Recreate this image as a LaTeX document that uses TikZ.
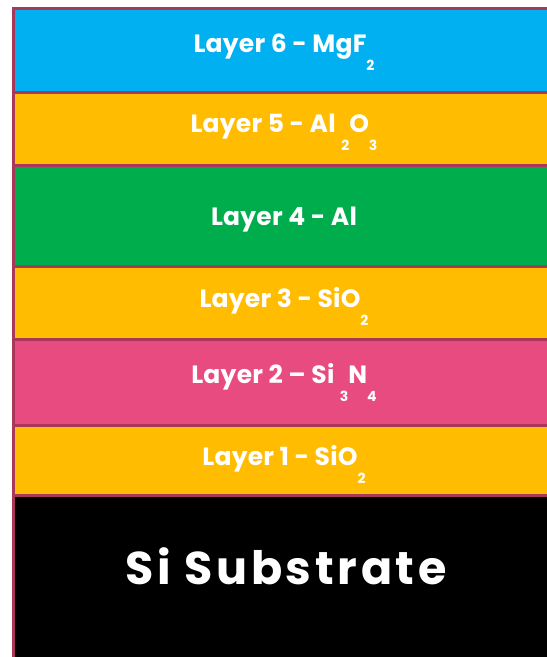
\documentclass[tikz,border=0pt]{standalone}
\usepackage{fontspec}
\setmainfont{Poppins}
\usetikzlibrary{positioning}

\definecolor{edge}{RGB}{168,56,90}
\definecolor{mgf}{RGB}{0,176,240}
\definecolor{oxide}{RGB}{255,188,0}
\definecolor{metal}{RGB}{0,173,76}
\definecolor{nitride}{RGB}{232,75,128}

\newcommand{\lsub}[1]{\raisebox{-18pt}{\fontsize{14}{14}\selectfont #1}}

\begin{document}
\begin{tikzpicture}[
    x=1pt, y=-1pt,
    layer/.style={draw=edge, line width=3pt, minimum width=551.5pt,
                  inner sep=0pt, outer sep=0pt},
    lbl/.style={anchor=base, inner sep=0pt, text=white,
                font=\fontsize{25}{30}\selectfont\bfseries\addfontfeatures{LetterSpace=1}},
    big/.style={lbl, font=\fontsize{46}{52}\selectfont\bfseries\addfontfeatures{LetterSpace=8}}
]
\useasboundingbox (0,0) rectangle (547,657);

\def\xm{289.25}
\def\xc{284}

% the stack, top to bottom
\node[layer, fill=mgf, minimum height=84.5pt] (L6) at (\xm, 50.25) {};
\node[layer, fill=oxide, minimum height=72.5pt, below=0pt of L6] (L5) {};
\node[layer, fill=metal, minimum height=101pt, below=0pt of L5] (L4) {};
\node[layer, fill=oxide, minimum height=73pt, below=0pt of L4] (L3) {};
\node[layer, fill=nitride, minimum height=86pt, below=0pt of L3] (L2) {};
\node[layer, fill=oxide, minimum height=70.5pt, below=0pt of L2] (L1) {};
\node[layer, fill=black, minimum height=180pt, below=0pt of L1] (sub) {};

% labels
\node[lbl] (t6) at (\xc, 52) {Layer 6 - MgF\lsub{2}};
\node[lbl] (t5) at (\xc, 132) {Layer 5 - Al \lsub{2}O\lsub{3}};
\node[lbl] (t4) at (\xc, 225) {Layer 4 - Al};
\node[lbl] (t3) at (\xc, 307) {Layer 3 - SiO\lsub{2}};
\node[lbl] (t2) at (\xc, 383) {Layer 2 – Si \lsub{3}N\lsub{4}};
\node[lbl] (t1) at (\xc, 465) {Layer 1 - SiO\lsub{2}};
\node[big] (ts) at (\xc+2, 584) {Si Substrate};

\end{tikzpicture}
\end{document}
